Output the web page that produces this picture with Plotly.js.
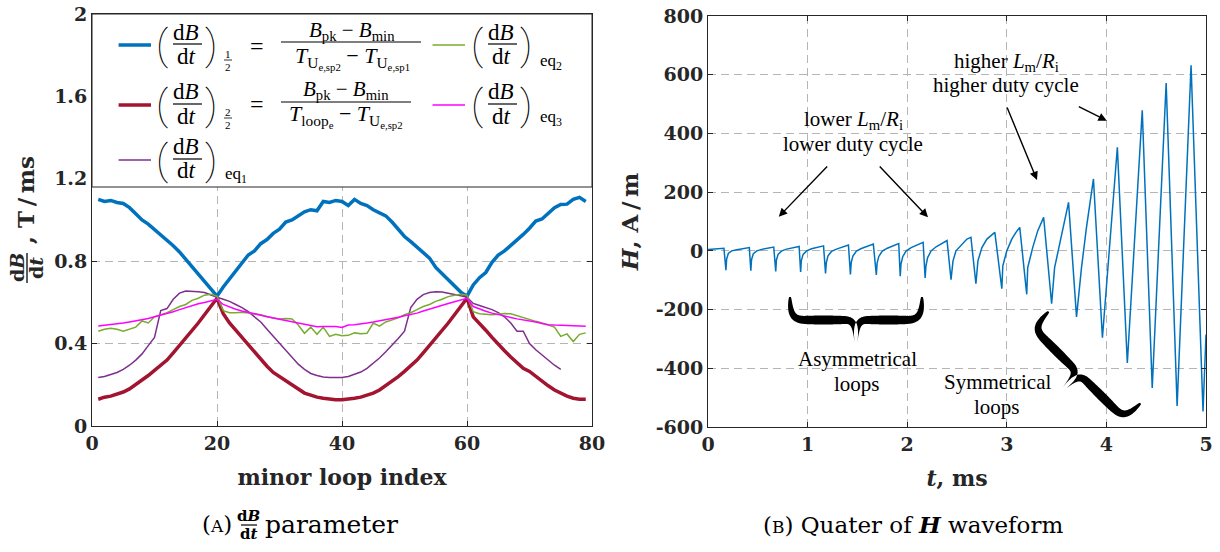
<!DOCTYPE html>
<html><head><meta charset="utf-8">
<script src="https://cdn.plot.ly/plotly-3.0.1.min.js"></script>
<style>body{margin:0;padding:0;background:#fff}#chart{width:1220px;height:552px}</style>
</head><body><div id="chart"></div>
<script>
// ---------- data: panel (A) ----------
const loopIndex = [1,2,3,4,5,6,7,8,9,10,11,12,13,14,15,16,17,18,19,20,21,22,23,24,25,26,27,28,29,30,31,32,33,34,35,36,37,38,39,40,41,42,43,44,45,46,47,48,49,50,51,52,53,54,55,56,57,58,59,60,61,62,63,64,65,66,67,68,69,70,71,72,73,74,75,76,77,78,79];
const loopIndexEq1 = [1,2,3,4,5,6,7,8,9,10,11,12,13,14,15,16,17,18,19,20,21,22,23,24,25,26,27,28,29,30,31,32,33,34,35,36,37,38,39,40,41,42,43,44,45,46,47,48,49,50,51,52,53,54,55,56,57,58,59,60,61,62,63,64,65,66,67,68,69,70,71,72,73,74,75];
const dBdtHalf1 = [1.10,1.09,1.095,1.085,1.08,1.06,1.03,1.00,0.98,0.955,0.93,0.90,0.875,0.845,0.81,0.77,0.735,0.70,0.665,0.63,
  0.675,0.715,0.755,0.795,0.83,0.85,0.885,0.905,0.935,0.955,0.99,1.00,1.02,1.04,1.05,1.045,1.09,1.085,1.095,1.09,
  1.07,1.10,1.08,1.07,1.05,1.035,1.02,0.99,0.955,0.92,0.895,0.87,0.84,0.815,0.77,0.74,0.71,0.68,0.65,0.63,
  0.685,0.72,0.745,0.795,0.83,0.85,0.875,0.90,0.93,0.96,0.995,1.005,1.03,1.06,1.075,1.077,1.10,1.11,1.09];
const dBdtHalf2 = [0.13,0.14,0.145,0.155,0.165,0.18,0.20,0.22,0.245,0.27,0.295,0.32,0.355,0.39,0.43,0.465,0.50,0.54,0.58,0.62,
  0.545,0.50,0.465,0.43,0.39,0.355,0.325,0.29,0.26,0.24,0.215,0.195,0.175,0.16,0.15,0.14,0.135,0.13,0.128,0.128,
  0.13,0.135,0.14,0.15,0.16,0.175,0.195,0.215,0.24,0.265,0.29,0.32,0.355,0.39,0.43,0.465,0.50,0.54,0.58,0.62,
  0.53,0.50,0.465,0.43,0.395,0.365,0.335,0.305,0.28,0.265,0.24,0.215,0.195,0.175,0.16,0.145,0.135,0.13,0.13];
const dBdtEq1 = [0.235,0.24,0.25,0.26,0.275,0.295,0.32,0.35,0.39,0.43,0.56,0.57,0.615,0.645,0.655,0.655,0.652,0.648,0.635,0.625,
  0.615,0.605,0.59,0.575,0.555,0.53,0.505,0.47,0.435,0.40,0.365,0.33,0.30,0.275,0.255,0.245,0.238,0.235,0.234,0.235,
  0.24,0.25,0.262,0.28,0.305,0.33,0.36,0.39,0.425,0.46,0.575,0.615,0.638,0.648,0.652,0.65,0.645,0.64,0.632,0.625,
  0.595,0.585,0.575,0.565,0.55,0.53,0.50,0.46,0.46,0.40,0.37,0.345,0.32,0.295,0.275];
const dBdtEq2 = [0.46,0.47,0.475,0.47,0.46,0.47,0.48,0.51,0.50,0.53,0.54,0.55,0.565,0.58,0.59,0.61,0.62,0.635,0.64,0.63,
  0.56,0.55,0.55,0.552,0.548,0.545,0.54,0.53,0.525,0.52,0.522,0.52,0.49,0.45,0.48,0.445,0.48,0.435,0.445,0.438,
  0.44,0.452,0.448,0.45,0.50,0.485,0.505,0.515,0.525,0.54,0.55,0.565,0.58,0.59,0.605,0.615,0.628,0.635,0.64,0.635,
  0.555,0.545,0.542,0.54,0.543,0.546,0.545,0.535,0.525,0.515,0.508,0.50,0.49,0.48,0.435,0.447,0.41,0.445,0.452];
const dBdtEq3 = [0.485,0.488,0.492,0.495,0.50,0.505,0.51,0.515,0.522,0.53,0.538,0.545,0.555,0.565,0.575,0.585,0.593,0.60,0.607,0.615,
  0.59,0.578,0.567,0.558,0.55,0.545,0.538,0.53,0.524,0.518,0.512,0.505,0.50,0.495,0.49,0.482,0.483,0.484,0.483,0.478,
  0.49,0.492,0.495,0.50,0.505,0.51,0.515,0.52,0.528,0.535,0.54,0.548,0.558,0.568,0.575,0.585,0.595,0.603,0.612,0.62,
  0.58,0.568,0.557,0.548,0.54,0.533,0.527,0.52,0.515,0.512,0.505,0.498,0.492,0.49,0.488,0.488,0.486,0.485,0.484];

// ---------- data: panel (B) ----------
const timeMs = [0,0.05,0.10,0.16,0.18,
  0.187,0.204,0.237,0.29,0.36,0.415,0.43,
  0.437,0.455,0.49,0.54,0.61,0.66,0.68,
  0.687,0.705,0.74,0.79,0.86,0.915,0.93,
  0.937,0.955,0.99,1.04,1.11,1.16,1.18,
  1.188,1.205,1.24,1.29,1.35,1.41,1.43,
  1.438,1.455,1.49,1.54,1.61,1.66,1.69,
  1.698,1.715,1.75,1.80,1.87,1.915,1.93,
  1.938,1.955,1.99,2.04,2.11,2.16,2.18,
  2.188,2.205,2.24,2.29,2.35,2.40,2.44,
  2.46,2.49,2.55,2.60,2.64,2.69,
  2.71,2.75,2.80,2.84,2.88,2.95,
  2.96,3.00,3.05,3.09,3.13,3.20,
  3.21,3.26,3.31,3.37,3.45,
  3.48,3.53,3.62,3.70,
  3.75,3.80,3.87,3.96,
  4.11,4.21,
  4.36,4.46,
  4.60,4.71,
  4.85,4.97,
  5.0];
const hField = [5,7,8,9,-66,
  -28,-9,0,4,8,11,-68,
  -30,-10,0,5,9,13,-70,
  -31,-11,0,6,11,15,-72,
  -33,-12,0,7,12,17,-77,
  -40,-17,-2,6,12,20,-80,
  -40,-18,-1,8,16,23,-82,
  -42,-19,-1,9,19,25,-86,
  -44,-20,0,11,21,29,-92,
  -52,-23,0,14,25,35,-98,
  -34,0,23,40,46,-112,
  -34,11,40,53,63,-129,
  -51,0,40,62,80,-148,
  -57,11,68,114,-180,
  -57,23,165,-225,
  -57,80,245,-296,
  353,-382,
  479,-467,
  572,-528,
  632,-547,
  -285];

const xTicksA = [0,20,40,60,80];
const yTicksA = [0,0.4,0.8,1.2,1.6,2];
const yTickTextA = ['0','0.4','0.8','1.2','1.6','2'];
const xTicksB = [0,1,2,3,4,5];
const yTicksB = [-600,-400,-200,0,200,400,600,800];
const yTickTextB = ['-600','-400','-200','0','200','400','600','800'];

// ---------- styling ----------
const C_BLUE='#0072BD', C_RED='#A2142F', C_PURPLE='#7E2F8E', C_GREEN='#77AC30', C_MAG='#FF00FF';
const W=1220, H=552;
const px=x=>x/W, py=y=>1-y/H;
const MATH='Liberation Serif', BOLD='DejaVu Serif', AX='#262626', PAREN='Roboto, Inter, Liberation Serif';
const annotations=[], shapes=[];
function txt(text,x,y,size,opt){
  opt=opt||{};
  const font={family:opt.family||MATH,size:size,color:opt.color||'#000'};
  if(opt.weight) font.weight=opt.weight;
  annotations.push(Object.assign({xref:'paper',yref:'paper',x:px(x),y:py(y),text:text,showarrow:false,
    xanchor:'center',yanchor:'middle',font:font},opt.extra||{}));
}
function seg(x0,y0,x1,y1,color,width){
  shapes.push({type:'line',xref:'paper',yref:'paper',x0:px(x0),y0:py(y0),x1:px(x1),y1:py(y1),line:{color:color,width:width},layer:'above'});
}
function dbdt(x0,yc){
  txt('(',x0+1,yc+1,41,{family:PAREN,weight:100});
  txt('d<i>B</i>',x0+25,yc-12,23);
  seg(x0+12,yc,x0+41,yc,'#000',1.2);
  txt('d<i>t</i>',x0+25,yc+12,23);
  txt(')',x0+50,yc+1,41,{family:PAREN,weight:100});
}
function arrow(tx,ty,hx,hy){
  annotations.push({xref:'paper',yref:'paper',x:px(hx),y:py(hy),ax:tx-hx,ay:ty-hy,text:'',showarrow:true,
    arrowhead:2,arrowsize:1.2,arrowwidth:1.4,arrowcolor:'#000',standoff:0,startstandoff:0});
}
// filled curly brace from A to B, cusp at depth h on the left-normal side
function brace(ax,ay,bx,by,h,tmax,tmin){
  const L=Math.hypot(bx-ax,by-ay), ux=(bx-ax)/L, uy=(by-ay)/L, nx=-uy, ny=ux;
  const P=(a,b)=>[ax+ux*a*L+nx*b*h, ay+uy*a*L+ny*b*h];
  const cub=(q,t)=>{const m=1-t; return [m*m*m*q[0][0]+3*m*m*t*q[1][0]+3*m*t*t*q[2][0]+t*t*t*q[3][0],
    m*m*m*q[0][1]+3*m*m*t*q[1][1]+3*m*t*t*q[2][1]+t*t*t*q[3][1]];};
  const halves=[
    [[[0,0],[0,0.42],[0.03,0.5],[0.13,0.5]],[[0.13,0.5],[0.22,0.5],[0.33,0.5],[0.41,0.5]],[[0.41,0.5],[0.475,0.5],[0.5,0.58],[0.5,1]]],
    [[[0.5,1],[0.5,0.58],[0.525,0.5],[0.59,0.5]],[[0.59,0.5],[0.67,0.5],[0.78,0.5],[0.87,0.5]],[[0.87,0.5],[0.97,0.5],[1,0.42],[1,0]]]
  ];
  const left=[], right=[];
  halves.forEach((segs,hi)=>{
    const pts=[];
    segs.forEach((s,si)=>{const q=s.map(v=>P(v[0],v[1])); for(let i=(si===0?0:1);i<=30;i++) pts.push(cub(q,i/30));});
    const cum=[0]; for(let i=1;i<pts.length;i++) cum.push(cum[i-1]+Math.hypot(pts[i][0]-pts[i-1][0],pts[i][1]-pts[i-1][1]));
    const tot=cum[cum.length-1];
    pts.forEach((p,i)=>{
      const i0=Math.max(0,i-1), i1=Math.min(pts.length-1,i+1);
      let dx=pts[i1][0]-pts[i0][0], dy=pts[i1][1]-pts[i0][1]; const dl=Math.hypot(dx,dy)||1; dx/=dl; dy/=dl;
      const s=cum[i]/tot; const th=tmin+(tmax-tmin)*Math.pow(Math.sin(Math.PI*s),0.7);
      left.push([p[0]-dy*th/2,p[1]+dx*th/2]); right.push([p[0]+dy*th/2,p[1]-dx*th/2]);
    });
  });
  const f=q=>px(q[0]).toFixed(5)+','+py(q[1]).toFixed(5);
  const d='M'+left.map(f).join(' L')+' L'+right.reverse().map(f).join(' L')+' Z';
  shapes.push({type:'path',xref:'paper',yref:'paper',path:d,fillcolor:'#000',line:{width:0},layer:'above'});
}

// legend box (panel A)
shapes.push({type:'rect',xref:'paper',yref:'paper',x0:px(92),x1:px(592),y0:py(187),y1:py(14),
  fillcolor:'#fff',line:{color:AX,width:1},layer:'above'});
// row 1
seg(118.6,45,151,45,C_BLUE,3.5); dbdt(161,44);
txt('1',228,54,11); seg(224,60,232,60,'#000',0.8); txt('2',228,66.5,11);
txt('=',257,46,24);
txt('<i>B</i><sub>pk</sub> \u2212 <i>B</i><sub>min</sub>',352,31,21);
seg(281,42,421,42,'#000',1.2);
txt('<i>T</i><sub>U<sub>e,sp2</sub></sub> \u2212 <i>T</i><sub>U<sub>e,sp1</sub></sub>',352,58,22);
seg(432.5,45,465,45,C_GREEN,1.5); dbdt(476,44); txt('eq<sub>2</sub>',551,62,17);
// row 2
seg(118.6,105,151,105,C_RED,3.5); dbdt(161,104);
txt('2',228,112,11); seg(224,118,232,118,'#000',0.8); txt('2',228,124.5,11);
txt('=',257,104,24);
txt('<i>B</i><sub>pk</sub> \u2212 <i>B</i><sub>min</sub>',346,90,21);
seg(281,102,411,102,'#000',1.2);
txt('<i>T</i><sub>loop<sub>e</sub></sub> \u2212 <i>T</i><sub>U<sub>e,sp2</sub></sub>',346,116,22);
seg(432.5,105,465,105,C_MAG,1.5); dbdt(476,104); txt('eq<sub>3</sub>',551,118,17);
// row 3
seg(118.6,160,151,160,C_PURPLE,1.5); dbdt(161,159); txt('eq<sub>1</sub>',236,175,17);

// y title panel A (rotated fraction)
txt('<b>d<i>B</i></b>',17,268,19,{family:BOLD,color:AX,extra:{textangle:-90}});
seg(27,253,27,283,AX,1.5);
txt('<b>d<i>t</i></b>',36,268,19,{family:BOLD,color:AX,extra:{textangle:-90}});
txt('<b>, T\u2009/\u2009ms</b>',25,200,23,{family:BOLD,color:AX,extra:{textangle:-90}});

// panel B annotations
txt('lower <i>L</i><sub>m</sub>/<i>R</i><sub>i</sub>',853,120,21);
txt('lower duty cycle',853,144,21);
txt('higher <i>L</i><sub>m</sub>/<i>R</i><sub>i</sub>',1006,62,21);
txt('higher duty cycle',1006,85,21);
txt('Asymmetrical',857,359,21);
txt('loops',857,384,21);
txt('Symmetrical',997,382,21);
txt('loops',997,407,21);
arrow(828.6,165,778.8,216.7);
arrow(878.3,165,928,217.3);
arrow(1006.5,106,1037,180);
arrow(1077.3,106,1106.8,120.7);
brace(790,297,922,297,46,9,1.8);
brace(1048.6,311.7,1140.5,403.3,45,9,1.8);

// captions
txt("(<span style='font-size:17px'>A</span>)",217,524,23,{family:BOLD});
txt('<b>d<i>B</i></b>',249,516,15,{family:BOLD});
seg(241,525,257,525,'#000',1.2);
txt('<b>d<i>t</i></b>',249,534,15,{family:BOLD});
txt('parameter',263,524,25,{family:BOLD,extra:{xanchor:'left'}});
txt("(<span style='font-size:17px'>B</span>) Quater of <b><i>H</i></b> waveform",913,524,23,{family:BOLD});

// ---------- traces ----------
const traces = [
  {x:loopIndex,y:dBdtHalf1,xaxis:'x',yaxis:'y',mode:'lines',name:'(dB/dt)1/2',line:{color:C_BLUE,width:3.5}},
  {x:loopIndex,y:dBdtHalf2,xaxis:'x',yaxis:'y',mode:'lines',name:'(dB/dt)2/2',line:{color:C_RED,width:3.5}},
  {x:loopIndexEq1,y:dBdtEq1,xaxis:'x',yaxis:'y',mode:'lines',name:'(dB/dt)eq1',line:{color:C_PURPLE,width:1.5}},
  {x:loopIndex,y:dBdtEq2,xaxis:'x',yaxis:'y',mode:'lines',name:'(dB/dt)eq2',line:{color:C_GREEN,width:1.5}},
  {x:loopIndex,y:dBdtEq3,xaxis:'x',yaxis:'y',mode:'lines',name:'(dB/dt)eq3',line:{color:C_MAG,width:1.5}},
  {x:timeMs,y:hField,xaxis:'x2',yaxis:'y2',mode:'lines',name:'H',line:{color:C_BLUE,width:1.5}}
];

const tickFont={family:BOLD,size:19,color:AX,weight:'bold'};
const common={showline:true,mirror:'ticks',linecolor:AX,linewidth:1,ticks:'inside',ticklen:5,tickcolor:AX,
  showgrid:true,gridcolor:'#b5b5b5',griddash:'8px,5px',gridwidth:1,zeroline:false,tickfont:tickFont,automargin:false,fixedrange:true};

const layout={
  width:W,height:H,margin:{l:0,r:0,t:0,b:0},paper_bgcolor:'#fff',plot_bgcolor:'#fff',showlegend:false,
  xaxis:Object.assign({},common,{domain:[px(92),px(592)],range:[0,80],tickvals:xTicksA,anchor:'y',
    title:{text:'<b>minor loop index</b>',font:{family:BOLD,size:22,color:AX},standoff:16}}),
  yaxis:Object.assign({},common,{domain:[py(426),py(14)],range:[0,2],tickvals:yTicksA,ticktext:yTickTextA,anchor:'x'}),
  xaxis2:Object.assign({},common,{domain:[px(708),px(1206)],range:[0,5],tickvals:xTicksB,anchor:'y2',
    title:{text:'<b><i>t</i>, ms</b>',font:{family:BOLD,size:22,color:AX},standoff:16}}),
  yaxis2:Object.assign({},common,{domain:[py(427),py(16)],range:[-600,800],tickvals:yTicksB,ticktext:yTickTextB,anchor:'x2',
    title:{text:'<b><i>H</i>, A\u2009/\u2009m</b>',font:{family:BOLD,size:23,color:AX},standoff:10}}),
  annotations:annotations,shapes:shapes
};
Plotly.newPlot('chart',traces,layout,{displayModeBar:false,staticPlot:true});
</script></body></html>
